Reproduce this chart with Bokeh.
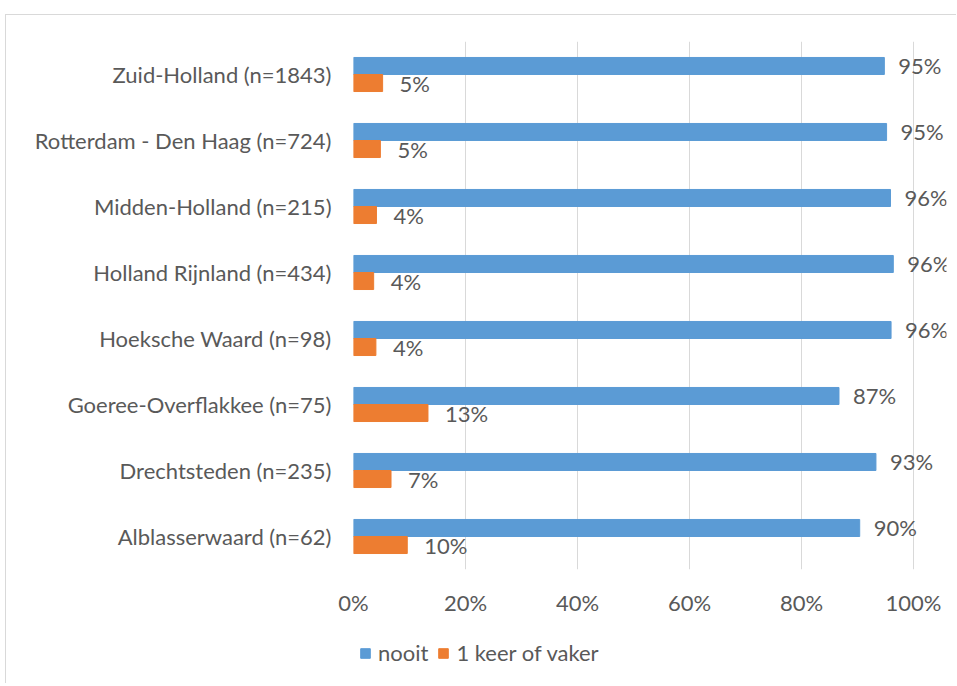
from bokeh.plotting import figure
from bokeh.layouts import column
from bokeh.models import ColumnDataSource, Legend, LegendItem, FixedTicker, LabelSet
from bokeh.transform import dodge
from bokeh.core.properties import value
from bokeh.embed import file_html
from bokeh.resources import INLINE

regions = [
    "Zuid-Holland (n=1843)",
    "Rotterdam - Den Haag (n=724)",
    "Midden-Holland (n=215)",
    "Holland Rijnland (n=434)",
    "Hoeksche Waard (n=98)",
    "Goeree-Overflakkee (n=75)",
    "Drechtsteden (n=235)",
    "Alblasserwaard (n=62)",
]
nooit = [94.8, 95.2, 95.9, 96.4, 96.0, 86.7, 93.3, 90.4]
vaker = [5.2, 4.8, 4.1, 3.6, 4.0, 13.3, 6.7, 9.6]
series_names = ["nooit", "1 keer of vaker"]
x_ticks = [0, 20, 40, 60, 80, 100]
x_tick_labels = ["0%", "20%", "40%", "60%", "80%", "100%"]

FONT = "Lato"
FS = "22px"
TXT = "#595959"
BLUE = "#5b9bd5"
ORANGE = "#ed7d31"
colors = [BLUE, ORANGE]

src = ColumnDataSource(dict(
    region=regions,
    nooit=nooit,
    vaker=vaker,
    nooit_lbl=[f"{round(v)}%" for v in nooit],
    vaker_lbl=[f"{round(v)}%" for v in vaker],
))

p = figure(
    width=950, height=606,
    y_range=list(reversed(regions)),
    x_range=(0, 105.9),
    output_backend="svg", toolbar_location=None,
    min_border_left=347, min_border_right=10,
    min_border_top=26, min_border_bottom=52,
)
p.y_range.range_padding = 0
p.outline_line_color = None
p.background_fill_color = "white"
p.border_fill_color = "white"

r1 = p.hbar(y=dodge("region", 0.129, range=p.y_range), right="nooit", left=0,
            height=0.258, source=src, fill_color=BLUE, line_color=BLUE)
r2 = p.hbar(y=dodge("region", -0.129, range=p.y_range), right="vaker", left=0,
            height=0.258, source=src, fill_color=ORANGE, line_color=ORANGE)

p.add_layout(LabelSet(x="nooit", y=dodge("region", 0.129, range=p.y_range), text="nooit_lbl",
                      source=src, x_offset=14, text_baseline="middle", text_align="left",
                      text_font=value(FONT), text_font_size=value(FS), text_color=TXT))
p.add_layout(LabelSet(x="vaker", y=dodge("region", -0.129, range=p.y_range), text="vaker_lbl",
                      source=src, x_offset=17, text_baseline="middle", text_align="left",
                      text_font=value(FONT), text_font_size=value(FS), text_color=TXT))

p.xaxis.ticker = FixedTicker(ticks=x_ticks)
p.xaxis.major_label_overrides = {t: l for t, l in zip(x_ticks, x_tick_labels)}
p.xgrid.ticker = FixedTicker(ticks=x_ticks)
p.xgrid.grid_line_color = "#d9d9d9"
p.xgrid.grid_line_width = 1
p.ygrid.grid_line_color = None

for ax in (p.xaxis, p.yaxis):
    ax.axis_line_color = None
    ax.major_tick_line_color = None
    ax.minor_tick_line_color = None
    ax.major_tick_out = 0
    ax.major_label_text_font = FONT
    ax.major_label_text_font_size = FS
    ax.major_label_text_color = TXT
p.xaxis.major_label_standoff = 19
p.yaxis.major_label_standoff = 22

# legend strip (frame is aligned with the main plot's frame by the column layout)
lg = figure(width=950, height=62, x_range=(0, 1), y_range=(0, 1),
            output_backend="svg", toolbar_location=None,
            min_border=0, min_border_left=0, min_border_right=0,
            min_border_top=0, min_border_bottom=0)
lg.axis.visible = False
lg.grid.visible = False
lg.outline_line_color = None
lg.border_fill_color = "white"
lr = [lg.rect(x=[-10], y=[-10], width=[0.1], height=[0.1], fill_color=c, line_color=c)
      for c in colors]
legend = Legend(items=[LegendItem(label=series_names[i], renderers=[lr[i]]) for i in range(2)],
                orientation="horizontal", location=(6, 17),
                glyph_width=12, glyph_height=12, spacing=9, label_standoff=7,
                padding=0, margin=0, border_line_color=None,
                background_fill_alpha=0,
                label_text_font=FONT, label_text_font_size=FS,
                label_text_color=TXT)
lg.add_layout(legend, "center")

layout = column(p, lg, spacing=0)
layout.margin = (14, 0, 0, 5)
layout.styles = {"border-left": "1px solid #d9d9d9", "border-top": "1px solid #d9d9d9"}

open("out.html", "w").write(file_html(layout, INLINE))
